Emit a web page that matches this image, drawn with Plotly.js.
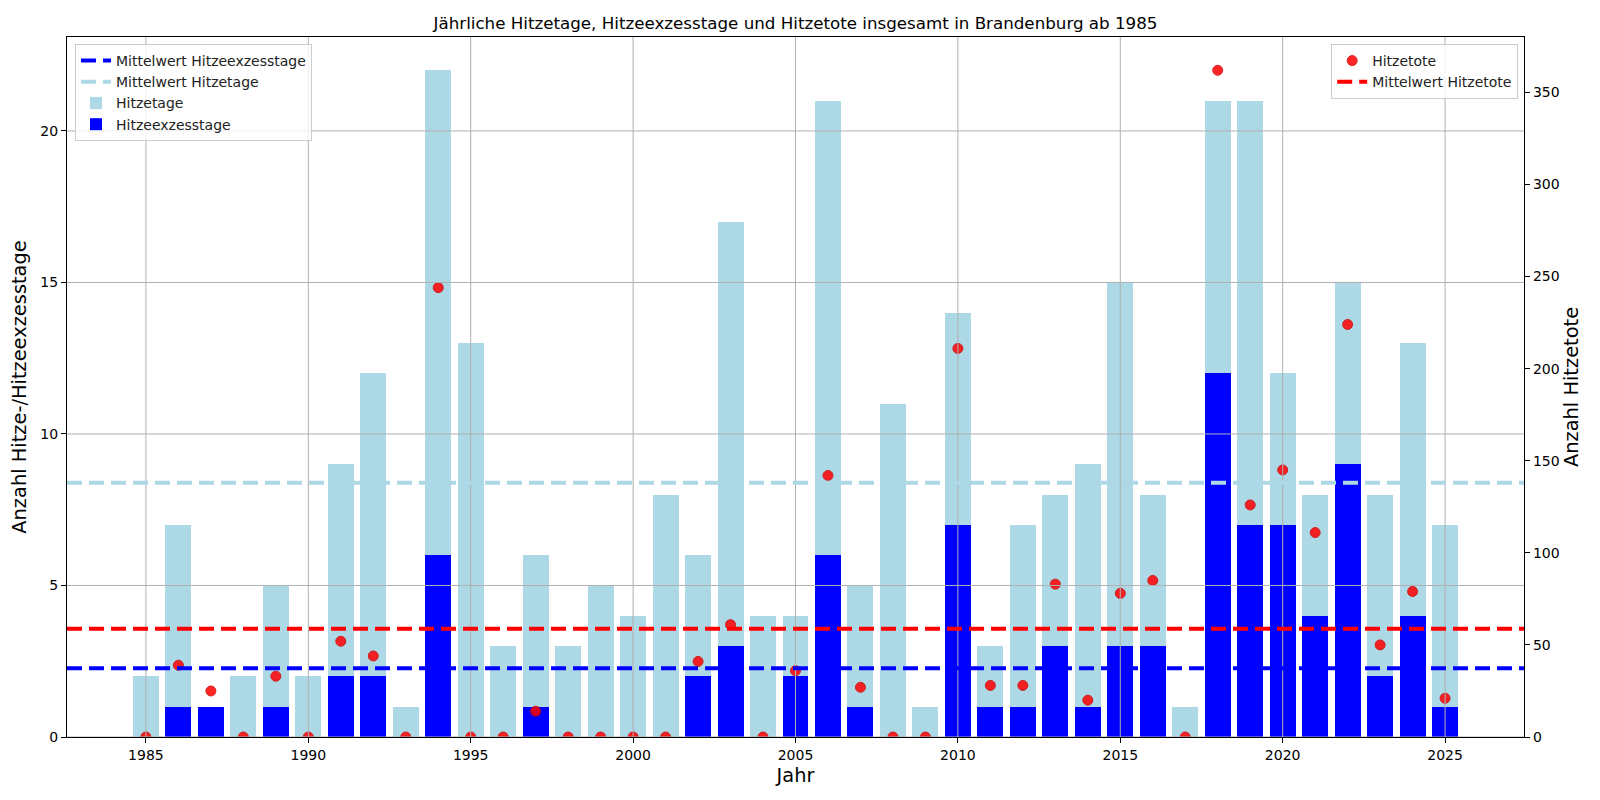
<!DOCTYPE html>
<html>
<head>
<meta charset="utf-8">
<script src="https://cdn.plot.ly/plotly-3.0.1.min.js"></script>
<style>
  html, body { margin: 0; padding: 0; background: #fff; }
  #chart { width: 1600px; height: 800px; }
</style>
</head>
<body>
<div id="chart"></div>
<script>
const years = [1985, 1986, 1987, 1988, 1989, 1990, 1991, 1992, 1993, 1994,
               1995, 1996, 1997, 1998, 1999, 2000, 2001, 2002, 2003, 2004,
               2005, 2006, 2007, 2008, 2009, 2010, 2011, 2012, 2013, 2014,
               2015, 2016, 2017, 2018, 2019, 2020, 2021, 2022, 2023, 2024,
               2025];

const hitzetage = [2, 7, 1, 2, 5, 2, 9, 12, 1, 22,
                   13, 3, 6, 3, 5, 4, 8, 6, 17, 4,
                   4, 21, 5, 11, 1, 14, 3, 7, 8, 9,
                   15, 8, 1, 21, 21, 12, 8, 15, 8, 13,
                   7];

const hitzeexzesstage = [0, 1, 1, 0, 1, 0, 2, 2, 0, 6,
                         0, 0, 1, 0, 0, 0, 0, 2, 3, 0,
                         2, 6, 1, 0, 0, 7, 1, 1, 3, 1,
                         3, 3, 0, 12, 7, 7, 4, 9, 2, 4,
                         1];

const hitzetote = [0, 39, 25, 0, 33, 0, 52, 44, 0, 244,
                   0, 0, 14, 0, 0, 0, 0, 41, 61, 0,
                   36, 142, 27, 0, 0, 211, 28, 28, 83, 20,
                   78, 85, 0, 362, 126, 145, 111, 224, 50, 79,
                   21];

const xTicks = [1985, 1990, 1995, 2000, 2005, 2010, 2015, 2020, 2025];
const yTicks = [0, 5, 10, 15, 20];
const y2Ticks = [0, 50, 100, 150, 200, 250, 300, 350];

mean = (arr) => arr.reduce((a, b) => a + b, 0) / arr.length;

const FONT = 'DejaVu Sans, sans-serif';
const GRID = '#b0b0b0';

const traces = [
    {
        x: years,
        y: hitzetage,
        type: 'bar',
        name: 'Hitzetage',
        width: 0.8,
        marker: {color: '#add8e6', line: {width: 0}},
        legend: 'legend',
        legendrank: 3
    },
    {
        x: years,
        y: hitzeexzesstage,
        type: 'bar',
        name: 'Hitzeexzesstage',
        width: 0.8,
        marker: {color: '#0000ff', line: {width: 0}},
        legend: 'legend',
        legendrank: 4
    },
    {
        x: years,
        y: hitzetote,
        type: 'scatter',
        mode: 'markers',
        name: 'Hitzetote',
        yaxis: 'y2',
        marker: {color: '#ff0000', size: 10, opacity: 0.85,
                 line: {color: '#d40000', width: 1}},
        legend: 'legend2',
        legendrank: 1
    }
];

// Gitter liegt wie im Original über den Balken
const shapes = [];
xTicks.forEach(t => shapes.push({
    type: 'line', xref: 'x', yref: 'paper', x0: t, x1: t, y0: 0, y1: 1,
    layer: 'above', line: {color: GRID, width: 1}
}));
yTicks.forEach(t => shapes.push({
    type: 'line', xref: 'paper', yref: 'y', x0: 0, x1: 1, y0: t, y1: t,
    layer: 'above', line: {color: GRID, width: 1}
}));

meanLine = (value, yref, color, name, legend, rank) => ({
    type: 'line', xref: 'paper', yref: yref, x0: 0, x1: 1, y0: value, y1: value,
    layer: 'above', line: {color: color, width: 4, dash: '15px,7px'},
    name: name, showlegend: true, legend: legend, legendrank: rank
});

shapes.push(meanLine(mean(hitzeexzesstage), 'y', '#0000ff', 'Mittelwert Hitzeexzesstage', 'legend', 1));
shapes.push(meanLine(mean(hitzetage), 'y', '#add8e6', 'Mittelwert Hitzetage', 'legend', 2));
shapes.push(meanLine(mean(hitzetote), 'y2', '#ff0000', 'Mittelwert Hitzetote', 'legend2', 2));

const legendStyle = {
    font: {family: FONT, size: 14, color: '#222'},
    bgcolor: 'rgba(255,255,255,0.8)',
    bordercolor: '#cccccc',
    borderwidth: 1,
    traceorder: 'normal',
    yanchor: 'top',
    y: 0.99
};

const layout = {
    width: 1600,
    height: 800,
    margin: {l: 67, r: 76, t: 37, b: 63, pad: 0},
    paper_bgcolor: '#ffffff',
    plot_bgcolor: '#ffffff',
    font: {family: FONT, size: 14, color: '#000'},
    barmode: 'overlay',
    bargap: 0,
    showlegend: true,
    title: {
        text: 'Jährliche Hitzetage, Hitzeexzesstage und Hitzetote insgesamt in Brandenburg ab 1985',
        font: {family: FONT, size: 16.7, color: '#000'},
        x: 0.5, xref: 'paper', xanchor: 'center',
        y: 0.971, yref: 'container', yanchor: 'middle'
    },
    xaxis: {
        range: [1982.57, 2027.43],
        tickvals: xTicks,
        ticks: 'outside', ticklen: 5, tickwidth: 1, tickcolor: '#000',
        tickfont: {family: FONT, size: 14, color: '#000'},
        showgrid: false, zeroline: false,
        showline: true, linecolor: '#000', linewidth: 1.1, mirror: true,
        title: {text: 'Jahr', font: {family: FONT, size: 19.4, color: '#000'}, standoff: 6},
        automargin: false
    },
    yaxis: {
        range: [0, 23.1],
        tickvals: yTicks,
        ticks: 'outside', ticklen: 5, tickwidth: 1, tickcolor: '#000',
        tickfont: {family: FONT, size: 14, color: '#000'},
        showgrid: false, zeroline: false,
        showline: true, linecolor: '#000', linewidth: 1.1,
        title: {text: 'Anzahl Hitze-/Hitzeexzesstage', font: {family: FONT, size: 19.4, color: '#000'}, standoff: 8},
        automargin: false
    },
    yaxis2: {
        overlaying: 'y',
        side: 'right',
        range: [0, 380.1],
        tickvals: y2Ticks,
        ticks: 'outside', ticklen: 5, tickwidth: 1, tickcolor: '#000',
        tickfont: {family: FONT, size: 14, color: '#000'},
        showgrid: false, zeroline: false,
        showline: true, linecolor: '#000', linewidth: 1.1,
        title: {text: 'Anzahl Hitzetote', font: {family: FONT, size: 19.4, color: '#000'}, standoff: 4},
        automargin: false
    },
    legend: Object.assign({}, legendStyle, {x: 0.0055, xanchor: 'left'}),
    legend2: Object.assign({}, legendStyle, {x: 0.996, xanchor: 'right'}),
    shapes: shapes
};

Plotly.newPlot('chart', traces, layout, {displayModeBar: false, staticPlot: true});
</script>
</body>
</html>
